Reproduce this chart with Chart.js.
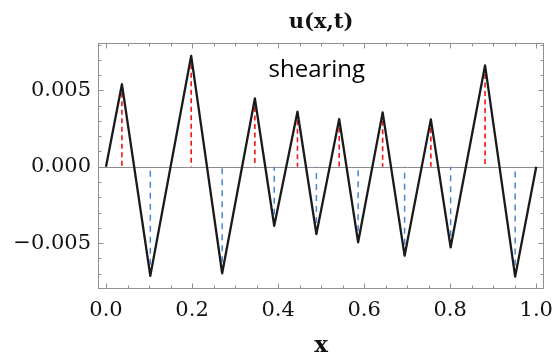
<!DOCTYPE html>
<html>
<head>
<meta charset="utf-8">
<script src="https://cdn.jsdelivr.net/npm/chart.js@4/dist/chart.umd.min.js"></script>
<style>
  html, body { margin: 0; padding: 0; background: #fff; }
  #c { display: block; }
</style>
</head>
<body>
<canvas id="c" width="554" height="356"></canvas>
<script>
// Crest positions and heights of the displacement profile u(x,t)
const peakX = [0.037, 0.198, 0.346, 0.445, 0.542, 0.643, 0.755, 0.881];
const peakU = [0.0054, 0.00726, 0.00447, 0.0036, 0.00312, 0.00356, 0.0031, 0.00663];

// Trough positions and depths
const troughX = [0.103, 0.270, 0.391, 0.489, 0.586, 0.694, 0.801, 0.951];
const troughU = [-0.00714, -0.00697, -0.00386, -0.0044, -0.00494, -0.00582, -0.00527, -0.00719];

// End points of the profile (fixed ends)
const endX = [0, 1];
const endU = [0, 0];

// Axis ticks
const xMajor = [0, 0.2, 0.4, 0.6, 0.8, 1.0];
const xTickLabels = ['0.0', '0.2', '0.4', '0.6', '0.8', '1.0'];
const yMajor = [-0.005, 0, 0.005];
const yTickLabels = ['\u22120.005', '0.000', '0.005'];
const xMinorStep = 0.05;
const yMinorStep = 0.001;

const titleText = 'u(x,t)';
const xTitle = 'x';
const noteText = 'shearing';
const notePos = { x: 0.49, y: 0.00632 };

// Profile: start, alternating crest / trough, end
const curve = [{ x: endX[0], y: endU[0] }];
peakX.forEach((px, i) => {
  curve.push({ x: px, y: peakU[i] });
  curve.push({ x: troughX[i], y: troughU[i] });
});
curve.push({ x: endX[1], y: endU[1] });

// Vertical dashed sticks from each extremum back to the axis
function sticks(xs, us) {
  const pts = [];
  xs.forEach((x, i) => {
    pts.push({ x: x, y: us[i] }, { x: x, y: 0 }, { x: x, y: null });
  });
  return pts;
}

// Frame with inward major/minor ticks on all four sides, zero axis and texts
const framePlugin = {
  id: 'frame',
  beforeDatasetsDraw(chart) {
    const { ctx, chartArea: a, scales: { y } } = chart;
    const y0 = Math.round(y.getPixelForValue(0)) + 0.5;
    ctx.save();
    ctx.strokeStyle = '#8c8c8c';
    ctx.lineWidth = 1;
    ctx.beginPath();
    ctx.moveTo(a.left, y0);
    ctx.lineTo(a.right, y0);
    ctx.stroke();
    ctx.restore();
  },
  afterDatasetsDraw(chart) {
    const { ctx, chartArea: a, scales: { x, y } } = chart;
    ctx.save();
    ctx.strokeStyle = '#909090';
    ctx.lineWidth = 1;
    const L = Math.round(a.left) + 0.5, R = Math.round(a.right) - 0.5;
    const T = Math.round(a.top) + 0.5, B = Math.round(a.bottom) - 0.5;
    ctx.strokeRect(L, T, R - L, B - T);
    ctx.beginPath();
    const majLen = 5, minLen = 3;
    // x ticks
    for (let k = 0; k <= Math.round(1 / xMinorStep); k++) {
      const v = k * xMinorStep;
      if (v < x.min || v > x.max) continue;
      const isMaj = xMajor.some(m => Math.abs(m - v) < 1e-9);
      const len = isMaj ? majLen : minLen;
      const px = Math.round(x.getPixelForValue(v)) + 0.5;
      ctx.moveTo(px, B); ctx.lineTo(px, B - len);
      ctx.moveTo(px, T); ctx.lineTo(px, T + len);
    }
    // y ticks
    for (let k = -10; k <= 10; k++) {
      const v = k * yMinorStep;
      if (v <= y.min || v >= y.max) continue;
      const isMaj = yMajor.some(m => Math.abs(m - v) < 1e-12);
      const len = isMaj ? majLen : minLen;
      const py = Math.round(y.getPixelForValue(v)) + 0.5;
      ctx.moveTo(L, py); ctx.lineTo(L + len, py);
      ctx.moveTo(R, py); ctx.lineTo(R - len, py);
    }
    ctx.stroke();

    const cx = (x.getPixelForValue(0) + x.getPixelForValue(1)) / 2;

    // in-plot annotation
    ctx.fillStyle = '#000';
    ctx.font = '24px "Open Sans"';
    ctx.textAlign = 'center';
    ctx.textBaseline = 'middle';
    ctx.fillText(noteText, x.getPixelForValue(notePos.x), y.getPixelForValue(notePos.y));

    // plot title and axis title
    ctx.fillStyle = '#111';
    ctx.textBaseline = 'alphabetic';
    ctx.font = 'bold 21px "DejaVu Serif"';
    ctx.fillText(titleText, cx, a.top - 15);
    ctx.font = 'bold 23px "DejaVu Serif"';
    ctx.fillText(xTitle, cx, chart.height - 4);
    ctx.restore();
  }
};

new Chart(document.getElementById('c'), {
  type: 'line',
  data: {
    datasets: [
      {
        data: curve,
        borderColor: '#1a1a1a',
        borderWidth: 2.3,
        pointRadius: 0,
        tension: 0,
        borderJoinStyle: 'round',
        order: 0
      },
      {
        data: sticks(peakX, peakU),
        borderColor: '#f01414',
        borderWidth: 1.6,
        borderDash: [5, 3.5],
        pointRadius: 0,
        spanGaps: false,
        order: 1
      },
      {
        data: sticks(troughX, troughU),
        borderColor: '#4a84d4',
        borderWidth: 1.5,
        borderDash: [6, 5],
        pointRadius: 0,
        spanGaps: false,
        order: 1
      }
    ]
  },
  options: {
    responsive: false,
    devicePixelRatio: 1,
    animation: false,
    layout: { padding: { top: 43, right: 10, bottom: 0, left: 0 } },
    plugins: {
      legend: { display: false },
      tooltip: { enabled: false },
      title: { display: false }
    },
    scales: {
      x: {
        type: 'linear',
        min: -0.0186,
        max: 1.018,
        grid: { display: false, drawTicks: false },
        border: { display: false },
        afterBuildTicks(scale) { scale.ticks = xMajor.map(v => ({ value: v })); },
        afterFit(scale) {
          scale.height = 67;
          scale.paddingLeft = 0;
          scale.paddingRight = 0;
        },
        ticks: {
          padding: 9,
          color: '#111',
          font: { family: '"DejaVu Serif"', size: 21 },
          maxRotation: 0,
          callback: (v, i) => xTickLabels[i]
        }
      },
      y: {
        type: 'linear',
        min: -0.008,
        max: 0.0081,
        grid: { display: false, drawTicks: false },
        border: { display: false },
        afterBuildTicks(scale) { scale.ticks = yMajor.map(v => ({ value: v })); },
        afterFit(scale) {
          scale.width = 98;
          scale.paddingTop = 0;
          scale.paddingBottom = 0;
        },
        ticks: {
          padding: 7,
          color: '#111',
          font: { family: '"DejaVu Serif"', size: 21 },
          callback: (v, i) => yTickLabels[i]
        }
      }
    }
  },
  plugins: [framePlugin]
});
</script>
</body>
</html>
